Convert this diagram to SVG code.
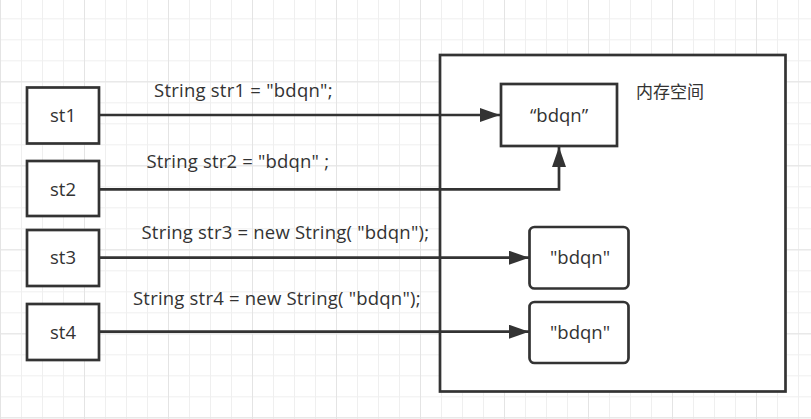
<svg xmlns="http://www.w3.org/2000/svg" width="811" height="419" viewBox="0 0 811 419">
<defs>
<pattern id="minor" width="21" height="21" patternUnits="userSpaceOnUse" x="0" y="18.3">
<path d="M0.5 0V21M0 0.5H21" fill="none" stroke="#efefef" stroke-width="1"/>
</pattern>
<pattern id="major" width="84" height="84" patternUnits="userSpaceOnUse" x="0" y="81.3">
<path d="M0.5 0V84M0 0.5H84" fill="none" stroke="#e4e4e4" stroke-width="1"/>
</pattern>
<marker id="arr" viewBox="0 0 20 14" refX="20" refY="7" markerWidth="20" markerHeight="14" markerUnits="userSpaceOnUse" orient="auto">
<path d="M0 0L20 7L0 14Z" fill="#333"/>
</marker>
<style>
.box{fill:#fff;stroke:#333;stroke-width:2.7}
.conn{fill:none;stroke:#333;stroke-width:2.7;marker-end:url(#arr)}
text{font-family:"Open Sans","Noto Sans CJK SC",sans-serif;fill:#333;font-size:18.5px}
.c{text-anchor:middle}
</style>
</defs>
<rect width="811" height="419" fill="#fff"/>
<rect width="811" height="419" fill="url(#minor)"/>
<rect width="811" height="419" fill="url(#major)"/>

<g id="memory">
<rect class="box" x="440" y="55" width="345.5" height="336.5"/>
<text x="636" y="97.5" style="font-family:'Noto Sans CJK SC',sans-serif;font-size:17px">内存空间</text>
</g>

<g id="st1"><rect class="box" x="27" y="87.5" width="72" height="56"/><text class="c" x="63" y="122">st1</text></g>
<g id="st2"><rect class="box" x="27" y="161" width="72" height="55"/><text class="c" x="63" y="196">st2</text></g>
<g id="st3"><rect class="box" x="27" y="230" width="72" height="56"/><text class="c" x="63" y="263.5">st3</text></g>
<g id="st4"><rect class="box" x="27" y="304" width="72" height="56"/><text class="c" x="63" y="338.5">st4</text></g>

<g id="pool"><rect class="box" x="501" y="84" width="116" height="62"/><text class="c" x="559" y="122">“bdqn”</text></g>
<g id="heap1"><rect class="box" x="529.5" y="227" width="99" height="61.5" rx="5"/><text class="c" x="580" y="264">"bdqn"</text></g>
<g id="heap2"><rect class="box" x="529.5" y="302" width="99" height="61" rx="5"/><text class="c" x="580" y="339">"bdqn"</text></g>

<g id="connectors">
<path class="conn" d="M99 115H500"/>
<path class="conn" d="M99 189.3H559V147"/>
<path class="conn" d="M99 257.7H529"/>
<path class="conn" d="M99 331.7H529"/>
<text x="154" y="97" textLength="178.5" lengthAdjust="spacing">String str1 = "bdqn";</text>
<text x="146.5" y="167.5" textLength="182.5" lengthAdjust="spacing">String str2 = "bdqn" ;</text>
<text x="141.5" y="238.5" textLength="287.5" lengthAdjust="spacing">String str3 = new String( "bdqn");</text>
<text x="133" y="304.5" textLength="287.5" lengthAdjust="spacing">String str4 = new String( "bdqn");</text>
</g>
</svg>
